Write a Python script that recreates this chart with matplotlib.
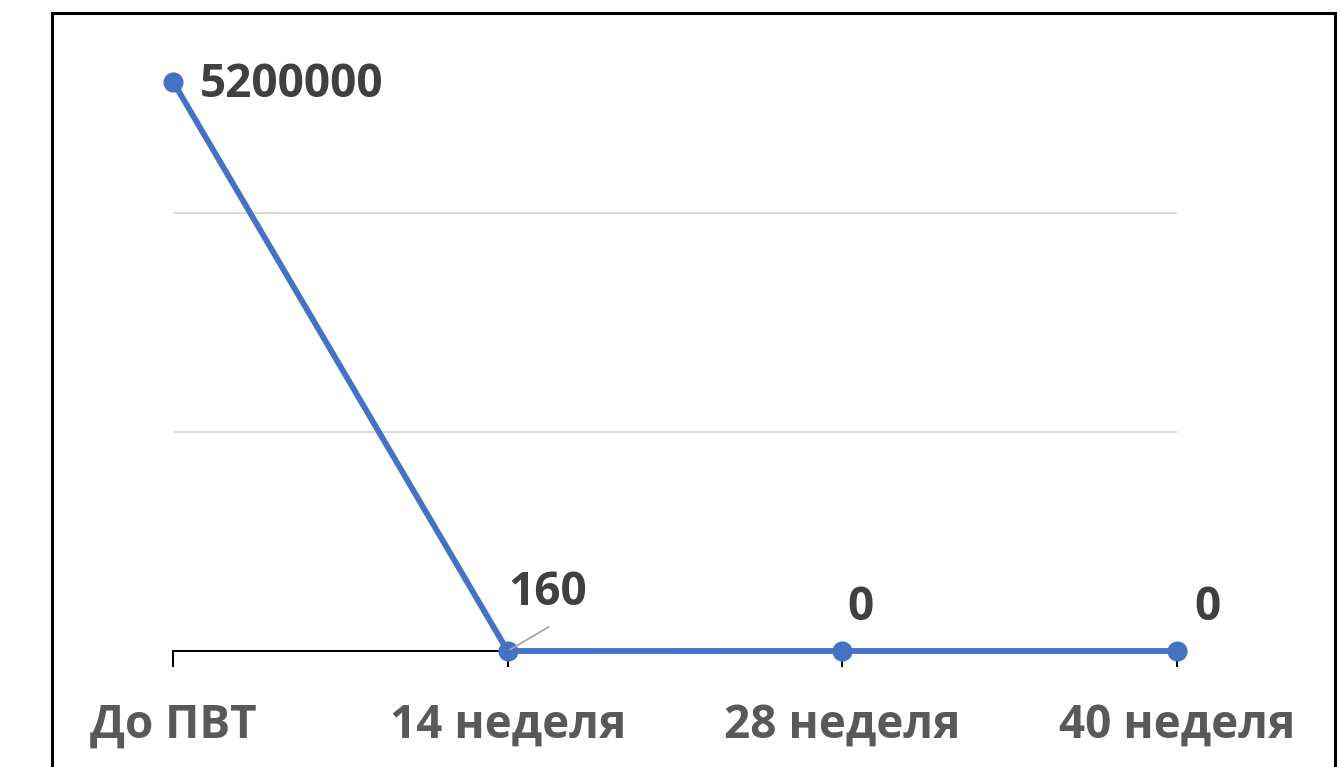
import matplotlib
matplotlib.use('Agg')
import matplotlib.pyplot as plt
from matplotlib.patches import Rectangle

categories = ['До ПВТ', '14 неделя', '28 неделя', '40 неделя']
values = [5200000, 160, 0, 0]
label_texts = ['5200000', '160', '0', '0']

plt.rcParams['font.family'] = ['Open Sans', 'DejaVu Sans']

fig = plt.figure(figsize=(13.42, 7.67), dpi=100)
ax = fig.add_axes([173 / 1342, 1 - 651 / 767, 1004 / 1342, 657 / 767])

x = list(range(len(categories)))
ax.plot(x, values, color='#4472C4', lw=4.2, marker='o', markersize=13.5,
        solid_capstyle='round', zorder=3, clip_on=False)

ax.set_xlim(0, 3)
ax.set_ylim(0, 6000000)
ax.set_yticks([2000000, 4000000])
ax.yaxis.grid(True, color='#d9d9d9', lw=1.5)
ax.set_axisbelow(True)
ax.tick_params(axis='y', left=False, labelleft=False)

ax.set_xticks(x)
ax.set_xticklabels(categories, fontsize=33, fontweight='bold', color='#595959')
ax.tick_params(axis='x', length=11.5, width=1.44, color='black', pad=25)

for s in ['top', 'right', 'left']:
    ax.spines[s].set_visible(False)
ax.spines['bottom'].set_linewidth(1.44)
ax.spines['bottom'].set_color('black')

# data labels, offsets in pixels
offsets = [(27, -3), (40, 58), (18, 44), (31, 44)]
for i, (v, t) in enumerate(zip(values, label_texts)):
    dx, dy = offsets[i]
    ha = 'left' if i == 0 else 'center'
    ax.annotate(t, xy=(i, v), xytext=(dx, dy), textcoords='offset pixels',
                ha=ha, va='center', fontsize=33, fontweight='bold', color='#404040')

# leader line for the 160 label
ax.annotate('', xy=(1, values[1]), xytext=(41, 24), textcoords='offset pixels',
            arrowprops=dict(arrowstyle='-', color='#a6a6a6', lw=1.3,
                            shrinkA=0, shrinkB=2))

# frame around the picture
fig.patches.append(Rectangle((52 / 1342, -0.05), 1283 / 1342, 1.05 - 13 / 767,
                             transform=fig.transFigure, fill=False,
                             edgecolor='black', lw=2.2))

fig.savefig('out.png', dpi=100)
